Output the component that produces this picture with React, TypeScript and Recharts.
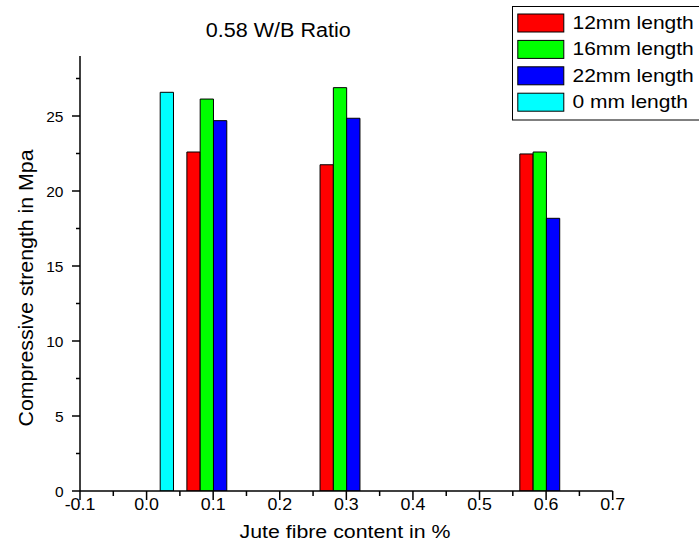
import React from 'react';
import { ComposedChart, Bar, XAxis, YAxis, Legend } from 'recharts';

const contents = [0, 0.1, 0.3, 0.6];
const len12 = [null, 22.6, 21.75, 22.47];
const len16 = [null, 26.13, 26.89, 22.6];
const len22 = [null, 24.69, 24.85, 18.18];
const len0 = [26.58, null, null, null];
const seriesNames = ['12mm length', '16mm length', '22mm length', '0 mm length'];
const seriesColors = ['#ff0000', '#00ff00', '#0000ff', '#00ffff'];
const xTicks = [-0.1, -0.05, 0, 0.05, 0.1, 0.15, 0.2, 0.25, 0.3, 0.35, 0.4, 0.45, 0.5, 0.55, 0.6, 0.65, 0.7];
const yTicks = [0, 2.5, 5, 7.5, 10, 12.5, 15, 17.5, 20, 22.5, 25, 27.5];

const data = contents.map((c, i) => ({
  content: c,
  l12: len12[i],
  l16: len16[i],
  l22: len22[i],
  l0: len0[i]
}));

const FONT = '"Liberation Sans", Arial, sans-serif';

const XTick = (props: any) => {
  const { x, y, payload } = props;
  const v = payload.value as number;
  const major = Math.abs(Math.round(v * 100)) % 10 === 0;
  return <g>
      <line x1={x} x2={x} y1={y} y2={y + (major ? 9 : 5)} stroke="#000" strokeWidth={1.5} />
      {major && <text x={0} y={0} transform={`translate(${x},${y + 19}) scale(1.08,1)`} textAnchor="middle" fontSize={16.5} fontFamily={FONT} fill="#000">
          {v.toFixed(1)}
        </text>}
    </g>;
};

const YTick = (props: any) => {
  const { x, y, payload } = props;
  const v = payload.value as number;
  const major = Math.round(v * 10) % 50 === 0;
  return <g>
      <line x1={x} x2={x - (major ? 8 : 4)} y1={y} y2={y} stroke="#000" strokeWidth={1.5} />
      {major && <text x={x - 16.5} y={y + 5.6} textAnchor="end" fontSize={15.5} fontFamily={FONT} fill="#000">
          {v}
        </text>}
    </g>;
};

const LegendBox = (props: any) => {
  const items = [...(props.payload || [])].sort((a: any, b: any) => seriesNames.indexOf(a.value) - seriesNames.indexOf(b.value));
  return <svg width={187} height={116} style={{ display: 'block' }}>
      <rect x={0.5} y={0.5} width={220} height={113.5} fill="#fff" stroke="#000" strokeWidth={1} />
      {items.map((p: any, i: number) => <g key={p.value}>
          <rect x={5.8} y={8 + i * 26.4} width={46} height={18} fill={p.color} stroke="#000" strokeWidth={1} />
          <text x={0} y={0} transform={`translate(60.5,${22.8 + i * 26.4}) scale(1.2,1)`} fontSize={17.5} fontFamily={FONT} fill="#000">
            {p.value}
          </text>
        </g>)}
    </svg>;
};

const App: React.FC = () => {
  return <div style={{ position: 'absolute', left: 0, top: 0, width: 699, height: 556, background: '#fff' }}>
      <ComposedChart width={699} height={556} data={data} barGap={0} margin={{
      top: 56,
      right: 86.3,
      bottom: 35,
      left: 40
    }}>
        <XAxis dataKey="content" type="number" domain={[-0.1, 0.7]} ticks={xTicks} interval={0} allowDataOverflow height={30} tickSize={0} tickMargin={0} tickLine={false} tick={<XTick />} axisLine={{ stroke: '#000', strokeWidth: 1.5 }} />
        <YAxis type="number" domain={[0, 29]} ticks={yTicks} interval={0} allowDataOverflow width={40} tickSize={0} tickMargin={0} tickLine={false} tick={<YTick />} axisLine={{ stroke: '#000', strokeWidth: 1.5 }} />
        <Legend layout="vertical" align="center" verticalAlign="middle" itemSorter={null as any} content={<LegendBox />} wrapperStyle={{ left: 512, top: 6, width: 187, height: 116 }} />
        <Bar dataKey="l12" name={seriesNames[0]} fill={seriesColors[0]} stroke="#000" strokeWidth={1} barSize={13.3} isAnimationActive={false} />
        <Bar dataKey="l16" name={seriesNames[1]} fill={seriesColors[1]} stroke="#000" strokeWidth={1} barSize={13.3} isAnimationActive={false} />
        <Bar dataKey="l22" name={seriesNames[2]} fill={seriesColors[2]} stroke="#000" strokeWidth={1} barSize={13.3} isAnimationActive={false} />
        <Bar dataKey="l0" name={seriesNames[3]} fill={seriesColors[3]} stroke="#000" strokeWidth={1} barSize={13.3} isAnimationActive={false} />
      </ComposedChart>
      <svg width={699} height={556} style={{ position: 'absolute', left: 0, top: 0, pointerEvents: 'none' }}>
        <text x={278.3} y={36.7} textAnchor="middle" fontSize={19.5} fontFamily={FONT} fill="#000" textLength={145} lengthAdjust="spacingAndGlyphs">
          0.58 W/B Ratio
        </text>
        <text x={345} y={537.5} textAnchor="middle" fontSize={17.5} fontFamily={FONT} fill="#000" textLength={211} lengthAdjust="spacingAndGlyphs">
          Jute fibre content in %
        </text>
        <text x={0} y={0} transform="translate(32.7,288) rotate(-90)" textAnchor="middle" fontSize={20.5} fontFamily={FONT} fill="#000" textLength={277} lengthAdjust="spacingAndGlyphs">
          Compressive strength in Mpa
        </text>
      </svg>
    </div>;
};

export default App;
